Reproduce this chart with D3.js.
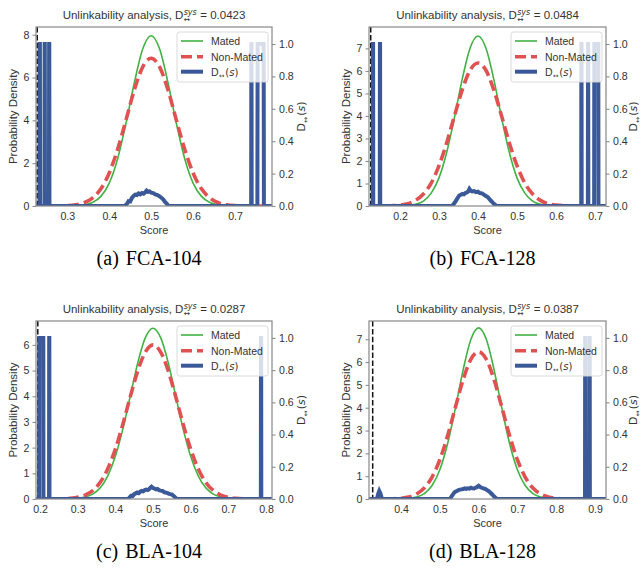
<!DOCTYPE html>
<html><head><meta charset="utf-8">
<script src="https://cdn.jsdelivr.net/npm/d3@7"></script>
<style>body{margin:0;background:#fff}svg{display:block}</style>
</head><body>
<svg id="chart" width="641" height="572"></svg>
<script>
// ---------------- data ----------------
const matedA = [[0.2253,0],[0.30,0],[0.32,0.01],[0.34,0.05],[0.36,0.16],[0.38,0.45],[0.40,1.07],[0.42,2.21],[0.44,3.87],[0.46,5.77],[0.48,7.34],[0.50,7.95],[0.52,7.34],[0.54,5.77],[0.56,3.87],[0.58,2.21],[0.60,1.07],[0.62,0.45],[0.64,0.16],[0.66,0.05],[0.68,0.01],[0.70,0],[0.7882,0]];
const nonMatedA = [[0.2253,0.002],[0.26,0.003],[0.28,0.005],[0.30,0.017],[0.32,0.054],[0.34,0.15],[0.36,0.37],[0.38,0.80],[0.40,1.54],[0.42,2.65],[0.44,4.02],[0.46,5.43],[0.48,6.5],[0.50,6.9],[0.52,6.5],[0.54,5.43],[0.56,4.02],[0.58,2.65],[0.60,1.54],[0.62,0.80],[0.64,0.37],[0.66,0.15],[0.68,0.054],[0.70,0.017],[0.72,0.005],[0.7882,0.002]];
const dA = [[0.2253,0],[0.2338,0],[0.2342,1],[0.2346,1],[0.2350,0],[0.2455,0],[0.2459,1],[0.2463,1],[0.2467,0],[0.2562,0],[0.2566,1],[0.2570,1],[0.2574,0],
  [0.437,0],[0.442,0.012],[0.446,0.03],[0.450,0.028],[0.454,0.05],[0.458,0.062],[0.462,0.07],[0.466,0.068],[0.470,0.078],[0.474,0.072],[0.478,0.08],[0.482,0.076],[0.486,0.086],[0.489,0.095],[0.492,0.088],[0.496,0.09],[0.500,0.082],[0.505,0.08],[0.510,0.072],[0.515,0.068],[0.520,0.06],[0.525,0.05],[0.529,0.04],[0.533,0.025],[0.537,0.015],[0.541,0],
  [0.7385,0],[0.7389,1],[0.7393,1],[0.7397,0],[0.7533,0],[0.7539,1],[0.7683,1],[0.7689,0],[0.7882,0]];

const matedB = [[0.1205,0],[0.20,0],[0.22,0.022],[0.24,0.077],[0.26,0.22],[0.28,0.57],[0.30,1.25],[0.32,2.40],[0.34,3.96],[0.36,5.67],[0.38,7.03],[0.40,7.55],[0.42,7.03],[0.44,5.67],[0.46,3.96],[0.48,2.40],[0.50,1.25],[0.52,0.57],[0.54,0.22],[0.56,0.077],[0.58,0.022],[0.60,0],[0.7282,0]];
const nonMatedB = [[0.1205,0.002],[0.16,0.004],[0.18,0.014],[0.20,0.04],[0.22,0.10],[0.24,0.25],[0.26,0.53],[0.28,1.02],[0.30,1.79],[0.32,2.82],[0.34,4.03],[0.36,5.18],[0.38,6.04],[0.40,6.35],[0.42,6.04],[0.44,5.18],[0.46,4.03],[0.48,2.82],[0.50,1.79],[0.52,1.02],[0.54,0.53],[0.56,0.25],[0.58,0.10],[0.60,0.04],[0.62,0.014],[0.64,0.004],[0.7282,0.002]];
const dB = [[0.1205,0],[0.1302,0],[0.1306,1],[0.1310,1],[0.1314,0],[0.1481,0],[0.1485,1],[0.1489,1],[0.1493,0],
  [0.333,0],[0.337,0.01],[0.340,0.02],[0.344,0.035],[0.348,0.05],[0.352,0.065],[0.356,0.07],[0.360,0.075],[0.364,0.072],[0.368,0.08],[0.372,0.085],[0.375,0.09],[0.378,0.105],[0.381,0.095],[0.385,0.09],[0.390,0.092],[0.395,0.085],[0.400,0.088],[0.405,0.08],[0.410,0.078],[0.415,0.07],[0.420,0.062],[0.425,0.055],[0.430,0.04],[0.435,0.028],[0.440,0.015],[0.448,0],
  [0.6646,0],[0.6650,1],[0.6654,1],[0.6658,0],[0.6817,0],[0.6821,1],[0.6825,1],[0.6829,0],[0.6978,0],[0.6982,1],[0.7085,1],[0.7089,0],[0.7282,0]];

const matedC = [[0.1894,0],[0.28,0],[0.30,0.026],[0.32,0.074],[0.34,0.19],[0.36,0.437],[0.38,0.90],[0.40,1.66],[0.42,2.73],[0.44,4.03],[0.46,5.33],[0.48,6.29],[0.50,6.65],[0.52,6.29],[0.54,5.33],[0.56,4.03],[0.58,2.73],[0.60,1.66],[0.62,0.90],[0.64,0.437],[0.66,0.19],[0.68,0.074],[0.70,0.026],[0.72,0],[0.8159,0]];
const nonMatedC = [[0.1894,0.002],[0.24,0.004],[0.26,0.009],[0.28,0.025],[0.30,0.065],[0.32,0.154],[0.34,0.33],[0.36,0.65],[0.38,1.18],[0.40,1.94],[0.42,2.91],[0.44,4.00],[0.46,5.01],[0.48,5.73],[0.50,6.0],[0.52,5.73],[0.54,5.01],[0.56,4.00],[0.58,2.91],[0.60,1.94],[0.62,1.18],[0.64,0.65],[0.66,0.33],[0.68,0.154],[0.70,0.065],[0.72,0.025],[0.74,0.009],[0.76,0.004],[0.8159,0.002]];
const dC = [[0.1894,0],[0.1977,0],[0.1981,1],[0.2088,1],[0.2092,0],[0.2240,0],[0.2244,1],[0.2248,1],[0.2252,0],
  [0.434,0],[0.438,0.01],[0.442,0.02],[0.446,0.018],[0.450,0.03],[0.454,0.035],[0.458,0.04],[0.462,0.036],[0.466,0.045],[0.470,0.05],[0.474,0.048],[0.478,0.055],[0.482,0.058],[0.486,0.055],[0.490,0.062],[0.493,0.07],[0.496,0.076],[0.500,0.068],[0.504,0.065],[0.508,0.06],[0.512,0.062],[0.516,0.055],[0.520,0.052],[0.525,0.05],[0.530,0.042],[0.535,0.04],[0.540,0.035],[0.545,0.03],[0.550,0.028],[0.555,0.018],[0.559,0.01],[0.563,0],
  [0.7863,0],[0.7867,1],[0.7871,1],[0.7875,0],[0.8159,0]];

const matedD = [[0.3175,0],[0.40,0],[0.42,0.025],[0.44,0.082],[0.46,0.235],[0.48,0.59],[0.50,1.28],[0.52,2.42],[0.54,3.97],[0.56,5.65],[0.58,6.99],[0.60,7.5],[0.62,6.99],[0.64,5.65],[0.66,3.97],[0.68,2.42],[0.70,1.28],[0.72,0.59],[0.74,0.235],[0.76,0.082],[0.78,0.025],[0.80,0],[0.9283,0]];
const nonMatedD = [[0.3175,0.002],[0.36,0.004],[0.38,0.011],[0.40,0.033],[0.42,0.089],[0.44,0.22],[0.46,0.48],[0.48,0.96],[0.50,1.72],[0.52,2.77],[0.54,4.01],[0.56,5.22],[0.58,6.12],[0.60,6.45],[0.62,6.12],[0.64,5.22],[0.66,4.01],[0.68,2.77],[0.70,1.72],[0.72,0.96],[0.74,0.48],[0.76,0.22],[0.78,0.089],[0.80,0.033],[0.82,0.011],[0.84,0.004],[0.9283,0.002]];
const dD = [[0.3175,0],[0.3380,0],[0.3410,0.03],[0.3440,0.05],[0.3470,0.035],[0.3510,0],
  [0.526,0],[0.530,0.015],[0.533,0.025],[0.537,0.04],[0.540,0.045],[0.544,0.05],[0.548,0.055],[0.552,0.058],[0.556,0.06],[0.560,0.062],[0.564,0.066],[0.568,0.063],[0.572,0.066],[0.576,0.064],[0.580,0.07],[0.584,0.066],[0.588,0.065],[0.592,0.07],[0.596,0.075],[0.600,0.082],[0.604,0.075],[0.608,0.07],[0.612,0.066],[0.616,0.064],[0.620,0.058],[0.625,0.05],[0.630,0.04],[0.635,0.028],[0.640,0.015],[0.647,0],
  [0.8742,0],[0.8746,1],[0.8750,1],[0.8754,0],[0.8855,0],[0.8859,1],[0.8863,1],[0.8867,0],[0.9283,0]];

const thresholds = [0.2282, 0.1249, 0.1942, 0.3270];
const dsysValues = ["0.0423", "0.0484", "0.0287", "0.0387"];
const captionTags = ["(a)", "(b)", "(c)", "(d)"];
const captionNames = ["FCA-104", "FCA-128", "BLA-104", "BLA-128"];
const xDomains = [[0.2253,0.7882],[0.1205,0.7282],[0.1894,0.8159],[0.3175,0.9283]];
const yMaxLeft = [8.36, 7.95, 6.93, 7.80];
const yMaxRight = 1.105;
const xTicks = [[0.3,0.4,0.5,0.6,0.7],[0.2,0.3,0.4,0.5,0.6,0.7],[0.2,0.3,0.4,0.5,0.6,0.7,0.8],[0.4,0.5,0.6,0.7,0.8,0.9]];
const yTicksLeft = [[0,2,4,6,8],[0,1,2,3,4,5,6,7],[0,1,2,3,4,5,6],[0,1,2,3,4,5,6,7]];
const yTicksRight = [0,0.2,0.4,0.6,0.8,1.0];
const legendLabels = ["Mated", "Non-Mated"];

// ---------------- layout / style ----------------
const SANS = "'Liberation Sans', Arial, Helvetica, sans-serif";
const MATH = "'DejaVu Sans', sans-serif";
const SERIF = "'Liberation Serif', 'Times New Roman', serif";
const TXT = "#333";
const GREEN = "#41b143", RED = "#e05252", BLUE = "#3b5998", SPINE = "#8c8c8c";
const boxes = [
  {l:36, r:272, t:27, b:206, rlab:33},
  {l:369, r:606, t:27, b:206, rlab:31},
  {l:36, r:272, t:321, b:499, rlab:33},
  {l:369, r:606, t:321, b:499, rlab:31}
];
const matedAll = [matedA, matedB, matedC, matedD];
const nonMatedAll = [nonMatedA, nonMatedB, nonMatedC, nonMatedD];
const dAll = [dA, dB, dC, dD];

const svg = d3.select("#chart");
const defs = svg.append("defs");

function rich(parent, pieces, anchor) {
  const g = parent.append("g");
  let x = 0, lastX = 0;
  pieces.forEach(p => {
    const px = p.stack ? lastX : x + (p.gap || 0);
    const t = g.append("text").attr("x", px).attr("y", p.shift || 0)
      .attr("font-size", p.size).attr("font-family", p.family || SANS)
      .attr("font-style", p.italic ? "italic" : "normal").attr("fill", TXT).text(p.t);
    const w = t.node().getComputedTextLength();
    if (p.stack) { x = Math.max(x, px + w); }
    else { lastX = px; x = px + w; }
  });
  const off = anchor === "middle" ? -x / 2 : anchor === "end" ? -x : 0;
  g.selectAll("text").attr("x", function(){ return +this.getAttribute("x") + off; });
  return g;
}
function dsPieces(size) {
  return [
    {t:"D", size:size},
    {t:"\u2194", size:size*0.62, family:MATH, shift:size*0.22, gap:0.3},
    {t:"(", size:size*0.95, family:MATH, gap:1},
    {t:"s", size:size*0.95, family:MATH, italic:true},
    {t:")", size:size*0.95, family:MATH}
  ];
}

boxes.forEach((bx, i) => {
  const x = d3.scaleLinear().domain(xDomains[i]).range([bx.l, bx.r]);
  const y = d3.scaleLinear().domain([0, yMaxLeft[i]]).range([bx.b, bx.t]);
  const y2 = d3.scaleLinear().domain([0, yMaxRight]).range([bx.b, bx.t]);
  const g = svg.append("g");
  const cid = "clip" + i;
  defs.append("clipPath").attr("id", cid).append("rect")
    .attr("x", bx.l).attr("y", bx.t).attr("width", bx.r - bx.l).attr("height", bx.b - bx.t);
  const plot = g.append("g").attr("clip-path", `url(#${cid})`);

  const line = d3.line().x(d => x(d[0])).y(d => y(d[1])).curve(d3.curveMonotoneX);
  plot.append("path").attr("d", line(matedAll[i])).attr("fill", "none")
    .attr("stroke", GREEN).attr("stroke-width", 1.6);
  plot.append("path").attr("d", line(nonMatedAll[i])).attr("fill", "none")
    .attr("stroke", RED).attr("stroke-width", 3.6).attr("stroke-dasharray", "11,5");
  plot.append("line").attr("x1", x(thresholds[i])).attr("x2", x(thresholds[i]))
    .attr("y1", bx.t).attr("y2", bx.b).attr("stroke", "#111").attr("stroke-width", 1.5)
    .attr("stroke-dasharray", "5.5,2.4");
  const dline = d3.line().x(d => x(d[0])).y(d => y2(d[1]));
  plot.append("path").attr("d", dline(dAll[i])).attr("fill", "none")
    .attr("stroke", BLUE).attr("stroke-width", 4).attr("stroke-linejoin", "miter")
    .attr("stroke-miterlimit", 3);

  // frame
  g.append("rect").attr("x", bx.l).attr("y", bx.t).attr("width", bx.r - bx.l)
    .attr("height", bx.b - bx.t).attr("fill", "none").attr("stroke", SPINE).attr("stroke-width", 1.25);

  // left axis
  const ly = d3.axisLeft(y).tickValues(yTicksLeft[i]).tickSize(3.5).tickPadding(3).tickFormat(d3.format("d"));
  const la = g.append("g").attr("transform", `translate(${bx.l},0)`).call(ly);
  // right axis
  const ry = d3.axisRight(y2).tickValues(yTicksRight).tickSize(3.5).tickPadding(3.5).tickFormat(d3.format(".1f"));
  const ra = g.append("g").attr("transform", `translate(${bx.r},0)`).call(ry);
  // bottom axis
  const bxA = d3.axisBottom(x).tickValues(xTicks[i]).tickSize(0).tickPadding(6).tickFormat(d3.format(".1f"));
  const ba = g.append("g").attr("transform", `translate(0,${bx.b})`).call(bxA);
  [la, ra, ba].forEach(a => {
    a.select(".domain").remove();
    a.selectAll(".tick line").attr("stroke", SPINE).attr("stroke-width", 1.1);
    a.selectAll(".tick text").attr("font-family", SANS).attr("font-size", 10.6).attr("fill", TXT);
  });

  // axis labels
  const cx = (bx.l + bx.r) / 2, cy = (bx.t + bx.b) / 2;
  g.append("text").attr("x", cx).attr("y", bx.b + 28).attr("text-anchor", "middle")
    .attr("font-family", SANS).attr("font-size", 11).attr("fill", TXT).text("Score");
  g.append("text").attr("transform", `translate(${bx.l - 19},${cy}) rotate(-90)`)
    .attr("text-anchor", "middle").attr("font-family", SANS).attr("font-size", 11.5)
    .attr("fill", TXT).text("Probability Density");
  const rl = g.append("g").attr("transform", `translate(${bx.r + bx.rlab},${cy}) rotate(-90)`);
  rich(rl, dsPieces(11.5), "middle");

  // title
  const tg = g.append("g").attr("transform", `translate(${cx},${bx.t - 8})`);
  rich(tg, [
    {t:"Unlinkability analysis, D", size:11.5},
    {t:"sys", size:8, family:MATH, italic:true, shift:-4.5, gap:0.3},
    {t:"\u2194", size:7.5, family:MATH, stack:true, shift:3},
    {t:"= " + dsysValues[i], size:11.5, gap:3.5}
  ], "middle");

  // legend
  const lgx = bx.r - 95, lgy = bx.t + 5;
  const lg = g.append("g");
  lg.append("rect").attr("x", lgx).attr("y", lgy).attr("width", 91).attr("height", 50).attr("rx", 2.5)
    .attr("fill", "#fff").attr("fill-opacity", 0.8).attr("stroke", "#d6d6d6").attr("stroke-width", 0.9);
  const rows = [lgy + 9, lgy + 24.7, lgy + 39.7];
  const styles = [
    {c:GREEN, w:1.6, dash:null},
    {c:RED, w:3.6, dash:"11,5"},
    {c:BLUE, w:4, dash:null}
  ];
  rows.forEach((ry0, k) => {
    const s = styles[k];
    const ln = lg.append("line").attr("x1", lgx + 4).attr("x2", lgx + 26).attr("y1", ry0).attr("y2", ry0)
      .attr("stroke", s.c).attr("stroke-width", s.w);
    if (s.dash) ln.attr("stroke-dasharray", s.dash);
    if (k < 2) {
      lg.append("text").attr("x", lgx + 34).attr("y", ry0 + 3.8).attr("font-family", SANS)
        .attr("font-size", 10.5).attr("fill", TXT).text(legendLabels[k]);
    } else {
      const dg = lg.append("g").attr("transform", `translate(${lgx + 34},${ry0 + 3.8})`);
      rich(dg, dsPieces(10.5), "start");
    }
  });

  // caption
  const capY = bx.b + 59;
  const cg = g.append("text").attr("x", cx - 5).attr("y", capY).attr("text-anchor", "middle")
    .attr("font-family", SERIF).attr("font-size", 20).attr("fill", "#000");
  cg.append("tspan").text(captionTags[i]);
  cg.append("tspan").attr("dx", 7).text(captionNames[i]);
});
</script>
</body></html>
